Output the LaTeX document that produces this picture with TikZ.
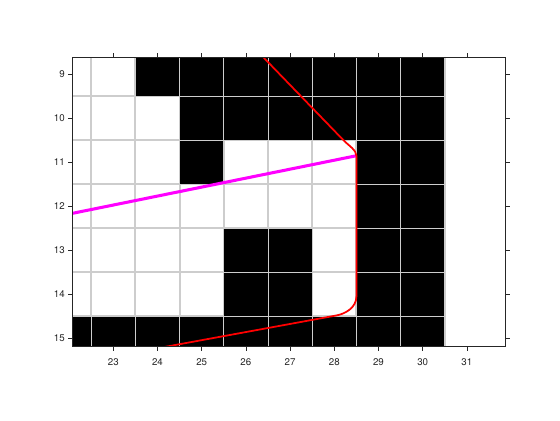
\documentclass[tikz,border=0pt]{standalone}
\usepackage{fontspec}
\setmainfont{TeX Gyre Heros}
\usepackage{color}
\definecolor{axgray}{RGB}{38,38,38}
\definecolor{gridgray}{RGB}{205,205,205}
\definecolor{pathmag}{RGB}{255,0,255}
\definecolor{pathred}{RGB}{255,0,0}

\begin{document}
\begin{tikzpicture}[x=1.326cm,y=-1.32cm,
    ticklabel/.style={inner sep=0pt,text=axgray,font=\fontsize{8.3}{10}\selectfont},
    tickmark/.style={draw=axgray,line width=0.5pt},
    cellline/.style={draw=gridgray,line width=#1}]
  \useasboundingbox (20.437,7.311) rectangle (33.107,16.857);
  \coordinate (ax-nw) at (22.066,8.61);
  \coordinate (ax-se) at (31.88,15.19);
  \begin{scope}
    \clip (ax-nw) rectangle (ax-se);
    % grid of the map
    \foreach \i in {21.5,22.5,...,30.5}
      \draw[cellline=1.7pt] (\i,8.5) -- (\i,15.5);
    \foreach \j in {8.5,9.5,...,15.5}
      \draw[cellline=1.7pt] (21.5,\j) -- (30.5,\j);
    % occupied cells
    \foreach \c/\r in {24/9,25/9,26/9,27/9,28/9,29/9,30/9,
                       25/10,26/10,27/10,28/10,29/10,30/10,
                       25/11,29/11,30/11,29/12,30/12,
                       26/13,27/13,29/13,30/13,26/14,27/14,29/14,30/14,
                       22/15,23/15,24/15,25/15,26/15,27/15,28/15,29/15,30/15}
      \fill[black] (\c-0.5,\r-0.5) rectangle ++(1,1);
    \foreach \i in {21.5,22.5,...,30.5}
      \draw[cellline=0.6pt] (\i,8.5) -- (\i,15.5);
    \foreach \j in {8.5,9.5,...,15.5}
      \draw[cellline=0.6pt] (21.5,\j) -- (30.5,\j);
    % paths
    \coordinate (p0) at (26.19,8.4);
    \coordinate (p1) at (28.2,10.49);
    \coordinate (p2) at (28.5,10.85);
    \coordinate (p3) at (28.5,14.05);
    \coordinate (p4) at (28.05,14.48);
    \coordinate (p5) at (23.0,15.41);
    \coordinate (s0) at (21.9,12.195);
    \draw[pathmag,line width=2.6pt] (s0) -- (p2);
    \draw[pathred,line width=1.5pt] (p0) -- (p1)
      .. controls (28.33,10.625) and (28.5,10.72) .. (p2) -- (p3)
      .. controls (28.5,14.3) and (28.25,14.443) .. (p4) -- (p5);
  \end{scope}
  \draw[axgray,line width=0.5pt] (ax-nw) rectangle (ax-se);
  \foreach \x in {23,...,31} {
    \draw[tickmark] (\x,15.19) -- ++(0,0.09);
    \draw[tickmark] (\x,8.61) -- ++(0,-0.09);
    \node[ticklabel,anchor=north] at (\x,15.46) {\x};
  }
  \foreach \y in {9,...,15} {
    \draw[tickmark] (22.066,\y) -- ++(-0.09,0);
    \draw[tickmark] (31.88,\y) -- ++(0.09,0);
    \node[ticklabel,anchor=east] at (21.906,\y) {\y};
  }
\end{tikzpicture}
\end{document}
